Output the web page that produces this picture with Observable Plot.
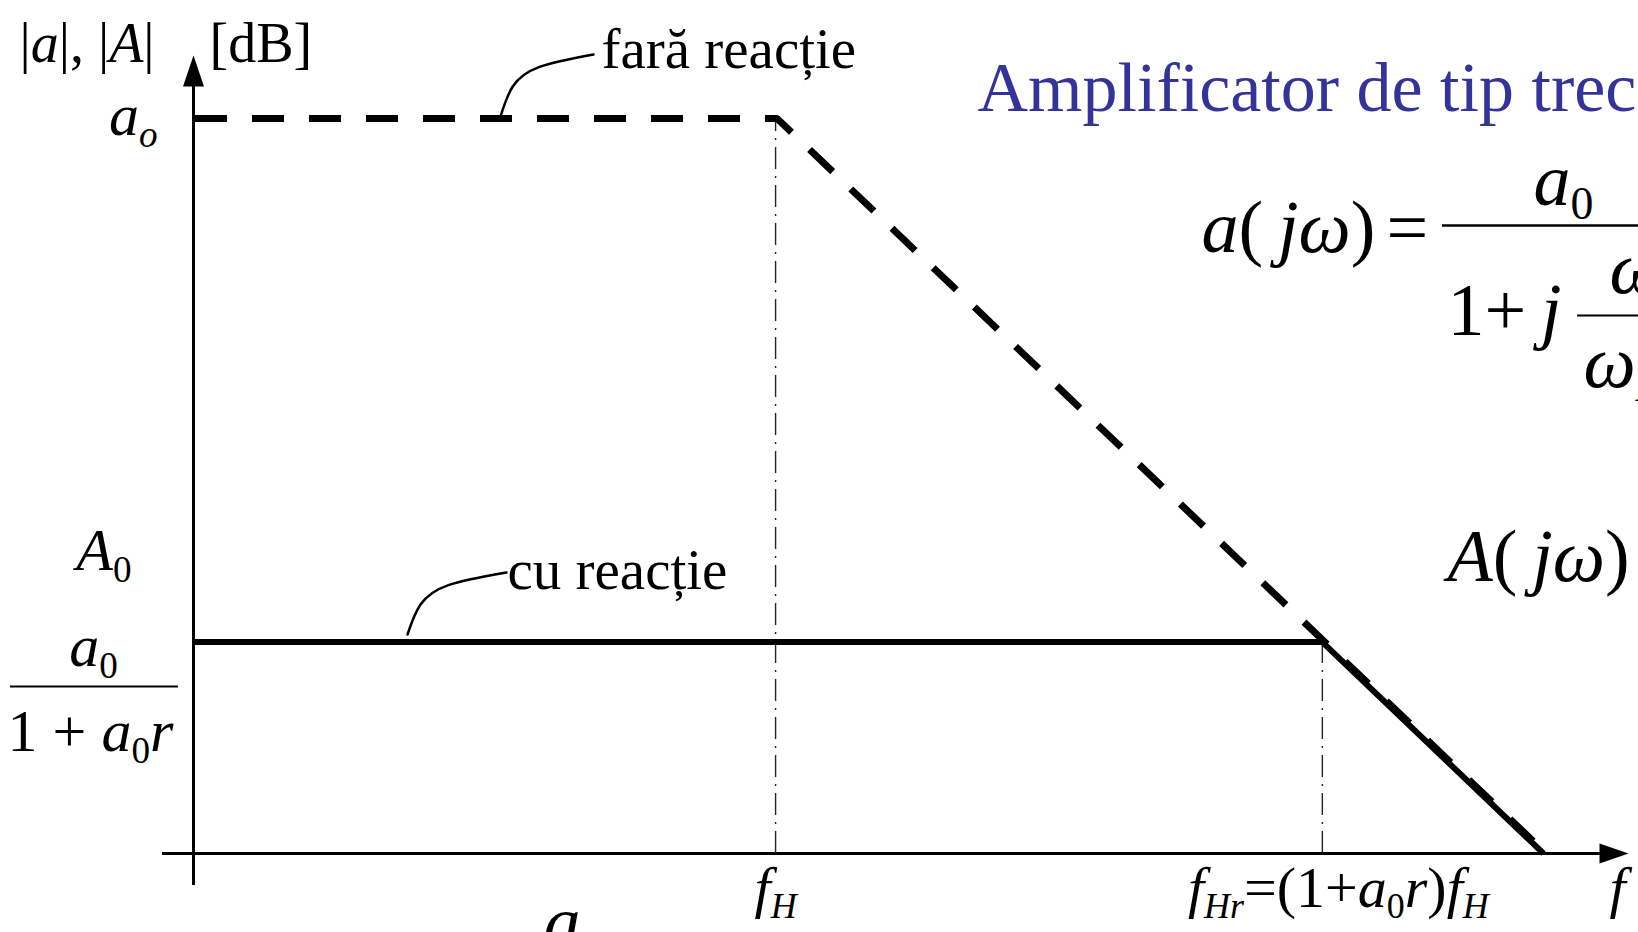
<!DOCTYPE html>
<html>
<head>
<meta charset="utf-8">
<script src="https://cdn.jsdelivr.net/npm/d3@7"></script>
<script src="https://cdn.jsdelivr.net/npm/@observablehq/plot@0.6"></script>
<style>
  html, body { margin: 0; padding: 0; background: #fff; overflow: hidden; }
  #chart svg { display: block; }
</style>
</head>
<body>
<div id="chart"></div>
<script>
// Asymptotic Bode magnitude plot: x is log10 of frequency (decades), y is gain in dB.
const openLoopFreq = [0, 3.79, 8.79];
const openLoopGain = [100, 100, 0];
const closedLoopFreq = [0, 7.35, 8.79];
const closedLoopGain = [28.8, 28.8, 0];

// Corner frequencies with their labels (f_H without feedback, f_Hr with feedback)
const cornerFreq = [3.79, 7.35];
const cornerGain = [100, 28.8];
const cornerLabels = ["f_{H}", "f_{Hr}=(1+a_{0}r)f_{H}"];

// Gain-axis labels
const openLoopLevelLabel = "a_{o}";
const closedLoopLevelLabels = ["A_{0}", "a_{0}", "1 + a_{0}r"];

const openLoop = openLoopFreq.map((f, i) => ({f, g: openLoopGain[i]}));
const closedLoop = closedLoopFreq.map((f, i) => ({f, g: closedLoopGain[i]}));
const corners = cornerFreq.map((f, i) => ({f, g: cornerGain[i], label: cornerLabels[i]}));

// Frame of the drawing
const W = 1638, H = 932;
const X_DOMAIN = [0, 8.79], X_RANGE = [193, 1543];
const Y_DOMAIN = [0, 100], Y_RANGE = [853, 119];
const xs = d3.scaleLinear(X_DOMAIN, X_RANGE);
const ys = d3.scaleLinear(Y_DOMAIN, Y_RANGE);

const A0 = closedLoopGain[0];
const a0 = openLoopGain[0];

// Filled arrowheads for the axes (tip at the origin)
const arrowUp = {draw(c) { c.moveTo(0, 0); c.lineTo(-10.5, 31); c.lineTo(10.5, 31); c.closePath(); }};
const arrowRight = {draw(c) { c.moveTo(0, 0); c.lineTo(-29, -10); c.lineTo(-29, 10); c.closePath(); }};

// A curved leader from a point on a curve up to its label
function leader(px0, py0, px1, py1) {
  const shape = [[0, 0], [0.13, 0.48], [0.42, 0.8], [1, 1]];
  return shape.map(([u, v]) => ({f: xs.invert(px0 + u * (px1 - px0)), g: ys.invert(py0 + v * (py1 - py0))}));
}

const MATH = "formula";
const serif = '"Liberation Serif", "Times New Roman", serif';
const m = {textAnchor: "start", lineAnchor: "bottom", ariaDescription: MATH};
const thin = "\u2009";

const plot = Plot.plot({
  width: W,
  height: H,
  margin: 0,
  x: {domain: X_DOMAIN, range: X_RANGE, axis: null},
  y: {domain: Y_DOMAIN, range: Y_RANGE, axis: null},
  style: {fontFamily: serif, background: "white", color: "black"},
  marks: [
    // axes
    Plot.ruleY([0], {x1: xs.invert(162), x2: xs.invert(1605), stroke: "black", strokeWidth: 3}),
    Plot.ruleX([0], {y1: ys.invert(885), y2: ys.invert(80), stroke: "black", strokeWidth: 3}),
    Plot.dot([{f: xs.invert(1628), g: 0}], {x: "f", y: "g", symbol: arrowRight, r: 5, fill: "black", stroke: "none"}),
    Plot.dot([{f: 0, g: ys.invert(55)}], {x: "f", y: "g", symbol: arrowUp, r: 5, fill: "black", stroke: "none"}),

    // dash-dot guides at the corner frequencies
    Plot.ruleX(corners, {x: "f", y1: 0, y2: "g", stroke: "#222", strokeWidth: 1.4, strokeDasharray: "22 7 2 7"}),

    // response without feedback (dashed) and with feedback (solid)
    Plot.line(closedLoop, {x: "f", y: "g", stroke: "black", strokeWidth: 6, strokeLinecap: "butt", strokeLinejoin: "miter"}),
    Plot.line(openLoop, {x: "f", y: "g", stroke: "black", strokeWidth: 7, strokeDasharray: "32 25", strokeLinecap: "butt", strokeLinejoin: "miter", dx: 1.5, dy: -1}),

    // leaders and curve names
    Plot.line(leader(500, 116, 593, 54), {x: "f", y: "g", curve: "natural", stroke: "black", strokeWidth: 2.5}),
    Plot.line(leader(407, 634, 506, 572), {x: "f", y: "g", curve: "natural", stroke: "black", strokeWidth: 2.5}),
    Plot.text(["fară reacție"], {x: xs.invert(601), y: a0, dy: 67 - ys(a0), textAnchor: "start", lineAnchor: "bottom", fontSize: 57}),
    Plot.text(["cu reacție"], {x: xs.invert(507), y: A0, dy: 588 - ys(A0), textAnchor: "start", lineAnchor: "bottom", fontSize: 57}),

    // gain-axis title
    Plot.text(["|a|, |A|"], {...m, frameAnchor: "top-left", dx: 19, dy: 61, fontSize: 56}),
    Plot.text(["[dB]"], {frameAnchor: "top-left", dx: 209, dy: 61, textAnchor: "start", lineAnchor: "bottom", fontSize: 56}),

    // gain-axis level labels
    Plot.text([openLoopLevelLabel], {...m, x: 0, y: a0, dx: -36, dy: 15, textAnchor: "end", fontSize: 60}),
    Plot.text([closedLoopLevelLabels[0]], {...m, x: 0, y: A0, dx: -62, dy: 569 - ys(A0), textAnchor: "end", fontSize: 60}),
    Plot.text([closedLoopLevelLabels[1]], {...m, x: 0, y: A0, dx: -100, dy: 665 - ys(A0), textAnchor: "middle", fontSize: 60}),
    Plot.ruleY([A0], {x1: xs.invert(10), x2: xs.invert(178), dy: 686 - ys(A0), stroke: "black", strokeWidth: 2}),
    Plot.text([closedLoopLevelLabels[2]], {...m, x: 0, y: A0, dx: -103, dy: 750 - ys(A0), textAnchor: "middle", fontSize: 60}),

    // frequency-axis labels
    Plot.text(corners.slice(0, 1), {...m, x: "f", y: 0, text: "label", dy: 906 - ys(0), textAnchor: "middle", fontSize: 58}),
    Plot.text(corners.slice(1), {...m, x: "f", y: 0, text: "label", dx: 16, dy: 906 - ys(0), textAnchor: "middle", fontSize: 58}),
    Plot.text(["f"], {...m, frameAnchor: "top-left", dx: 1609, dy: 906, fontSize: 58}),

    // heading and transfer functions
    Plot.text(["Amplificator de tip trece-jos"], {frameAnchor: "top-left", dx: 977, dy: 110, textAnchor: "start", lineAnchor: "bottom", fontSize: 70, fill: "#333399"}),
    Plot.text([`a(${thin}jω)`], {...m, frameAnchor: "top-left", dx: 1201, dy: 251, fontSize: 74}),
    Plot.text(["="], {frameAnchor: "top-left", dx: 1386, dy: 251, textAnchor: "start", lineAnchor: "bottom", fontSize: 74}),
    Plot.text(["a_{0}"], {...m, frameAnchor: "top-left", dx: 1533, dy: 204, fontSize: 74}),
    Plot.ruleY([0], {x1: xs.invert(1442), x2: xs.invert(1700), dy: 225 - ys(0), stroke: "black", strokeWidth: 2.5}),
    Plot.text([`1+${thin}j`], {...m, frameAnchor: "top-left", dx: 1447, dy: 334, fontSize: 74}),
    Plot.ruleY([0], {x1: xs.invert(1577), x2: xs.invert(1700), dy: 315 - ys(0), stroke: "black", strokeWidth: 2}),
    Plot.text(["ω"], {...m, frameAnchor: "top-left", dx: 1609, dy: 292, fontSize: 74}),
    Plot.text(["ω_{H}"], {...m, frameAnchor: "top-left", dx: 1583, dy: 386, fontSize: 74}),
    Plot.text([`A(${thin}jω)`], {...m, frameAnchor: "top-left", dx: 1447, dy: 580, fontSize: 74}),
    Plot.text(["a"], {...m, frameAnchor: "top-left", dx: 543, dy: 946, fontSize: 74})
  ]
});

document.getElementById("chart").appendChild(plot);

// Math typesetting: letters in italics, digits and operators upright, _{...} as subscript.
function typeset(root) {
  const ns = "http://www.w3.org/2000/svg";
  root.querySelectorAll(`g[aria-description="${MATH}"] text`).forEach((t) => {
    const src = t.textContent;
    const size = parseFloat(getComputedStyle(t).fontSize);
    const runs = [];
    let i = 0;
    while (i < src.length) {
      if (src.startsWith("_{", i)) {
        const j = src.indexOf("}", i);
        runs.push({text: src.slice(i + 2, j), sub: true});
        i = j + 1;
      } else {
        let j = i;
        while (j < src.length && !src.startsWith("_{", j)) j++;
        runs.push({text: src.slice(i, j), sub: false});
        i = j;
      }
    }
    t.textContent = "";
    let lowered = false;
    const shift = size * 0.2;
    for (const run of runs) {
      const pieces = run.text.match(/([A-Za-zα-ω]+|[^A-Za-zα-ω]+)/g) || [];
      for (const p of pieces) {
        const ts = document.createElementNS(ns, "tspan");
        ts.textContent = p;
        if (/[A-Za-zα-ω]/.test(p)) ts.setAttribute("font-style", "italic");
        if (run.sub) ts.setAttribute("font-size", size * 0.62);
        if (run.sub && !lowered) { ts.setAttribute("dy", shift); lowered = true; }
        else if (!run.sub && lowered) { ts.setAttribute("dy", -shift); lowered = false; }
        t.appendChild(ts);
      }
    }
  });
}
typeset(plot);
</script>
</body>
</html>
